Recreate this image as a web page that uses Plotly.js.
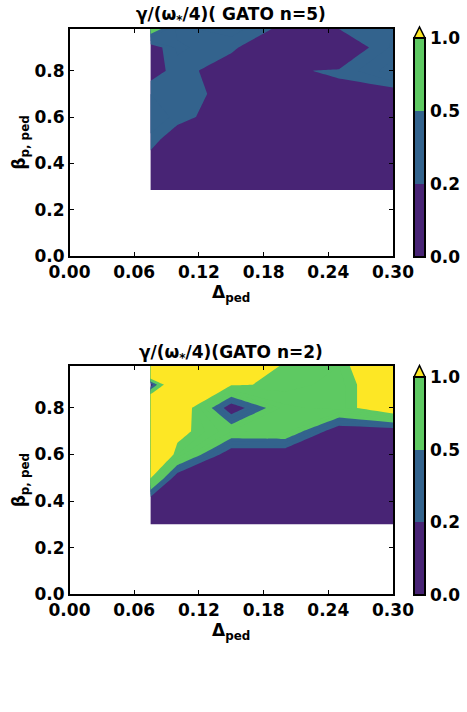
<!DOCTYPE html>
<html>
<head>
<meta charset="utf-8">
<script src="https://cdn.plot.ly/plotly-3.0.1.min.js"></script>
<style>html,body{margin:0;padding:0;background:#fff;}#chart{width:467px;height:712px;}</style>
</head>
<body>
<div id="chart"></div>
<script>
// ---- data ----
const deltaPed = [0.075, 0.10, 0.15, 0.20, 0.25, 0.30];
const betaTop = [0.285, 0.40, 0.50, 0.60, 0.70, 0.80, 0.90, 0.98];
const betaBot = [0.30, 0.40, 0.50, 0.60, 0.70, 0.80, 0.90, 0.98];
// gamma/(omega*/4), GATO n=5 (rows = beta, cols = delta)
const gammaN5 = [
  [0.05, 0.03, 0.02, 0.02, 0.02, 0.02],
  [0.10, 0.04, 0.03, 0.02, 0.02, 0.02],
  [0.28, 0.05, 0.03, 0.03, 0.03, 0.03],
  [0.35, 0.28, 0.05, 0.04, 0.04, 0.05],
  [0.30, 0.30, 0.12, 0.05, 0.18, 0.10],
  [0.12, 0.26, 0.11, 0.19, 0.21, 0.47],
  [0.105, 0.32, 0.23, 0.00, 0.05, 0.32],
  [0.65, 0.27, 0.35, 0.15, 0.201, 0.30]
];
// gamma/(omega*/4), GATO n=2
const gammaN2 = [
  [0.01, 0.01, 0.00, 0.00, 0.00, 0.00],
  [0.02, 0.01, 0.00, 0.00, 0.00, 0.00],
  [1.03, 0.02, 0.01, 0.00, 0.00, 0.00],
  [1.60, 0.90, 0.01, 0.00, 0.00, 0.00],
  [2.00, 1.10, 0.71, 0.75, 0.00, 0.02],
  [2.40, 1.37, 0.01, 0.77, 0.85, 1.30],
  [0.00, 2.00, 1.03, 0.955, 0.85, 1.30],
  [3.00, 2.50, 1.50, 0.94, 0.90, 1.40]
];
const levels = [0.0, 0.2, 0.5, 1.0];
const levelLabels = ['0.0', '0.2', '0.5', '1.0'];
const bandColors = ['#482475', '#33638d', '#5ec962'];
const overColor = '#fde725';
const xTicks = [0, 0.06, 0.12, 0.18, 0.24, 0.30];
const yTicks = [0, 0.2, 0.4, 0.6, 0.8];

// ---- styles ----
const W = 467, H = 712;
const FONT = 'DejaVu Sans, sans-serif';
const bold = (s) => ({family: FONT, size: s, color: '#000', weight: 700});

// contour levels every 0.1 from 0.2 to 1.0; fills coloured by band
const cStart = 0.2, cSize = 0.1, cEnd = 1.05;
const nLev = Math.floor((cEnd - cStart) / cSize) + 1;
const dMin = cStart - cSize, dMax = dMin + nLev * cSize;
const sOf = (z) => (z - dMin) / (dMax - dMin);
const s1 = sOf(levels[1]), s2 = sOf(levels[2]);
const s3 = (sOf(levels[3] - cSize / 2) + 1) / 2;
const contourScale = [
  [0, bandColors[0]], [s1, bandColors[0]], [s1, bandColors[1]], [s2, bandColors[1]],
  [s2, bandColors[2]], [s3, bandColors[2]], [s3, overColor], [1, overColor]
];
const barScale = [
  [0, bandColors[0]], [1/3, bandColors[0]], [1/3, bandColors[1]], [2/3, bandColors[1]],
  [2/3, bandColors[2]], [1, bandColors[2]]
];

function contourTrace(z, y, xa, ya) {
  return {
    type: 'contour', x: deltaPed, y: y, z: z, xaxis: xa, yaxis: ya,
    autocontour: false,
    contours: {start: cStart, end: cEnd, size: cSize, coloring: 'fill', showlines: false},
    line: {width: 0, smoothing: 0}, colorscale: contourScale, showscale: false, hoverinfo: 'skip'
  };
}
function barTrace(xa, ya, yBottom, lenPx) {
  return {
    type: 'scatter', mode: 'markers', x: [null], y: [null], xaxis: xa, yaxis: ya,
    showlegend: false, hoverinfo: 'skip',
    marker: {
      color: [0], cmin: 0, cmax: levels.length - 1, colorscale: barScale, showscale: true,
      colorbar: {
        x: 414 / W, xanchor: 'left', y: yBottom, yanchor: 'bottom',
        thickness: 11, thicknessmode: 'pixels', len: lenPx, lenmode: 'pixels',
        xpad: 0, ypad: 0, outlinecolor: '#000', outlinewidth: 2,
        tickvals: levels.map((v, i) => i), ticktext: levelLabels,
        ticks: '', tickfont: bold(17)
      }
    }
  };
}

const xDom = [69.5 / W, 393 / W];
const topDom = [(H - 256) / H, (H - 29) / H];
const botDom = [(H - 594.3) / H, (H - 366) / H];

function xAxis(dom, anchor) {
  return {
    domain: dom, anchor: anchor, range: [0, 0.30], tickvals: xTicks, tickformat: '.2f',
    ticks: 'inside', ticklen: 4, tickwidth: 1, tickcolor: '#000', mirror: 'ticks',
    showline: true, linecolor: '#000', linewidth: 1.6, showgrid: false, zeroline: false,
    tickfont: bold(17),
    title: {text: 'Δ<sub>ped</sub>', font: bold(17), standoff: 2}
  };
}
function yAxis(dom, anchor) {
  return {
    domain: dom, anchor: anchor, range: [0, 0.98], tickvals: yTicks, tickformat: '.1f',
    ticks: 'inside', ticklen: 4, tickwidth: 1, tickcolor: '#000', mirror: 'ticks',
    showline: true, linecolor: '#000', linewidth: 1.6, showgrid: false, zeroline: false,
    tickfont: bold(17),
    title: {text: 'β<sub>p, ped</sub>', font: bold(17), standoff: 4}
  };
}

function triangle(yBase, yTip) {
  const x0 = 414 / W, x1 = 425 / W, xm = (x0 + x1) / 2;
  return {
    type: 'path', xref: 'paper', yref: 'paper',
    path: `M ${x0} ${yBase} L ${x1} ${yBase} L ${xm} ${yTip} Z`,
    fillcolor: overColor, line: {color: '#000', width: 1.5}
  };
}

const data = [
  contourTrace(gammaN5, betaTop, 'x', 'y'),
  contourTrace(gammaN2, betaBot, 'x2', 'y2'),
  barTrace('x', 'y', (H - 257) / H, 219),
  barTrace('x2', 'y2', (H - 595) / H, 218)
];

const layout = {
  width: W, height: H, margin: {l: 0, r: 0, t: 0, b: 0},
  paper_bgcolor: '#fff', plot_bgcolor: '#fff', showlegend: false,
  font: {family: FONT, color: '#000'},
  xaxis: xAxis(xDom, 'y'), yaxis: yAxis(topDom, 'x'),
  xaxis2: xAxis(xDom, 'y2'), yaxis2: yAxis(botDom, 'x2'),
  annotations: [
    {text: 'γ/(ω<sub>*</sub>/4)( GATO n=5)', xref: 'paper', yref: 'paper', x: 231 / W, y: (H - 15) / H,
     xanchor: 'center', yanchor: 'middle', showarrow: false, font: bold(17)},
    {text: 'γ/(ω<sub>*</sub>/4)(GATO n=2)', xref: 'paper', yref: 'paper', x: 231 / W, y: (H - 353) / H,
     xanchor: 'center', yanchor: 'middle', showarrow: false, font: bold(17)}
  ],
  shapes: [
    triangle((H - 38) / H, (H - 27) / H),
    triangle((H - 377) / H, (H - 365.5) / H)
  ]
};

Plotly.newPlot('chart', data, layout, {staticPlot: true, displayModeBar: false});
</script>
</body>
</html>
